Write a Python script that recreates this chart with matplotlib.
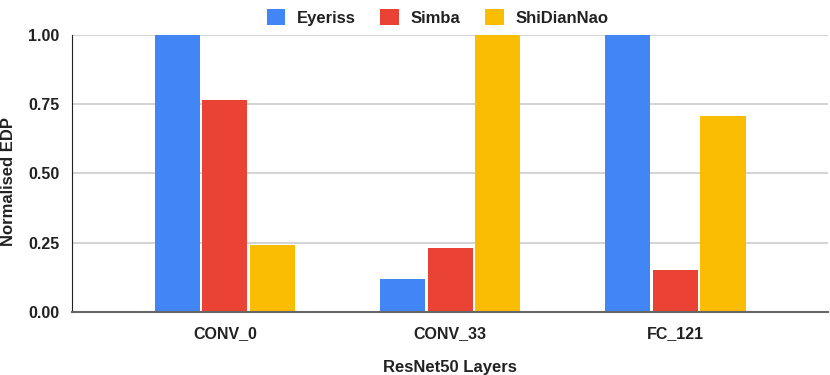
import numpy as np
import matplotlib.pyplot as plt

layers = ["CONV_0", "CONV_33", "FC_121"]
eyeriss = [1.0, 0.12, 1.0]
simba = [0.765, 0.231, 0.152]
shidiannao = [0.243, 1.0, 0.708]

plt.rcParams['font.family'] = ['Liberation Sans', 'DejaVu Sans']
tekst = '#222222'

fig = plt.figure(figsize=(8.3, 3.75), dpi=100)
ax = fig.add_axes([0.0867, 0.168, 0.911, 0.739])

x = np.arange(len(layers))
w = 0.2
step = 0.213
serie = [("Eyeriss", eyeriss, "#4285F4"),
         ("Simba", simba, "#EA4335"),
         ("ShiDianNao", shidiannao, "#FBBC04")]
for i, (nazwa, vals, kolor) in enumerate(serie):
    ax.bar(x + (i - 1) * step, vals, w, color=kolor, label=nazwa, zorder=3)

ax.set_xlim(-0.68, 2.68)
ax.set_ylim(0, 1.0)
ax.set_yticks([0, 0.25, 0.5, 0.75, 1.0])
ax.set_yticklabels(["0.00", "0.25", "0.50", "0.75", "1.00"])
ax.set_xticks(x)
ax.set_xticklabels(layers)
ax.grid(axis='y', color='#cccccc', linewidth=1.2, zorder=0)
ax.tick_params(axis='y', length=0, labelsize=11.5, pad=9, labelcolor=tekst)
ax.tick_params(axis='x', length=0, labelsize=11.5, pad=10, labelcolor=tekst)
for lab in ax.get_xticklabels() + ax.get_yticklabels():
    lab.set_fontweight('bold')
for s in ['top', 'right']:
    ax.spines[s].set_visible(False)
ax.spines['left'].set_color('#222222')
ax.spines['bottom'].set_color('#666666')
ax.spines['bottom'].set_linewidth(1.5)
ax.spines['bottom'].set_zorder(4)

ax.set_xlabel("ResNet50 Layers", fontsize=12, fontweight='bold', labelpad=14, color=tekst)
ax.set_ylabel("Normalised EDP", fontsize=12, fontweight='bold', color=tekst)
ax.yaxis.set_label_coords(-0.074, 0.47)

leg = fig.legend(loc='upper center', bbox_to_anchor=(0.527, 1.015), ncol=3, frameon=False,
                 prop={'weight': 'bold', 'size': 12}, handlelength=1.1, handleheight=1.1,
                 columnspacing=1.5, handletextpad=0.7, labelcolor=tekst)

plt.savefig('out.png', dpi=100)
